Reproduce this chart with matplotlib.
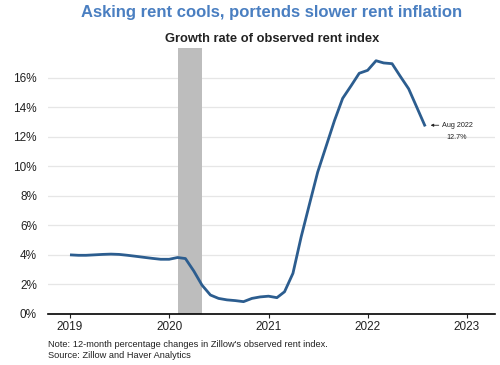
import matplotlib.pyplot as plt
import pandas as pd

# Zillow observed rent index, 12-month % change, Jan 2019 - Aug 2022
months = pd.date_range('2019-01-01', '2022-08-01', freq='MS')
rent_growth = [
    4.00, 3.97, 3.97, 4.00, 4.03, 4.05, 4.03, 3.97, 3.90, 3.83, 3.76, 3.70,  # 2019
    3.70, 3.82, 3.75, 2.90, 1.95, 1.28, 1.05, 0.95, 0.90, 0.83, 1.05, 1.15,  # 2020
    1.20, 1.10, 1.50, 2.75, 5.20, 7.45, 9.60, 11.35, 13.10, 14.60, 15.45, 16.30,  # 2021
    16.50, 17.15, 17.00, 16.95, 16.10, 15.25, 14.00, 12.70,  # 2022
]
recession = ('2020-02-01', '2020-04-30')
year_ticks = ['2019', '2020', '2021', '2022', '2023']

plt.rcParams['font.family'] = ['Liberation Sans', 'DejaVu Sans']

fig = plt.figure(figsize=(5, 3.65), dpi=100)
ax = fig.add_axes([0.096, 0.14, 0.894, 0.728])

ax.axvspan(pd.Timestamp(recession[0]), pd.Timestamp(recession[1]),
           color='#bdbdbd', lw=0, zorder=1)
ax.plot(months, rent_growth, color='#2c5d8f', lw=2.0, zorder=3,
        solid_capstyle='butt')

ax.set_ylim(0, 18)
ax.set_yticks(range(0, 17, 2))
ax.set_yticklabels([f'{v}%' for v in range(0, 17, 2)])
ax.set_xlim(pd.Timestamp('2018-10-12'), pd.Timestamp('2023-04-15'))
ax.set_xticks([pd.Timestamp(y + '-01-01') for y in year_ticks])
ax.set_xticklabels(year_ticks)

ax.grid(axis='y', color='#e6e6e6', lw=0.9, zorder=0)
ax.set_axisbelow(True)
for side in ['left', 'right', 'top']:
    ax.spines[side].set_visible(False)
ax.spines['bottom'].set_linewidth(1.2)
ax.tick_params(axis='y', length=0, labelsize=8.5, colors='#222222', pad=8)
ax.tick_params(axis='x', length=3, width=0.8, labelsize=8.5, colors='#222222',
               direction='out', pad=2)

# last-point annotation
last_x, last_y = months[-1], rent_growth[-1]
ax.annotate('Aug 2022', xy=(last_x + pd.Timedelta(days=20), last_y + 0.08),
            xytext=(last_x + pd.Timedelta(days=60), last_y + 0.08),
            fontsize=5.2, va='center', ha='left', color='#222222',
            arrowprops=dict(arrowstyle='-|>', color='#222222', lw=0.6,
                            mutation_scale=4, shrinkA=0, shrinkB=0))
ax.text(last_x + pd.Timedelta(days=115), last_y - 0.75, '12.7%',
        fontsize=5.2, ha='center', va='center', color='#222222')

fig.text(0.544, 0.965, 'Asking rent cools, portends slower rent inflation',
         ha='center', va='center', fontsize=12, fontweight='bold',
         color='#4a7fc1')
fig.text(0.544, 0.893, 'Growth rate of observed rent index',
         ha='center', va='center', fontsize=9.3, fontweight='bold',
         color='#222222')
fig.text(0.096, 0.057, "Note: 12-month percentage changes in Zillow's observed rent index.",
         ha='left', va='center', fontsize=6.7, color='#222222')
fig.text(0.096, 0.027, 'Source: Zillow and Haver Analytics',
         ha='left', va='center', fontsize=6.7, color='#222222')

fig.savefig('out.png', dpi=100)
